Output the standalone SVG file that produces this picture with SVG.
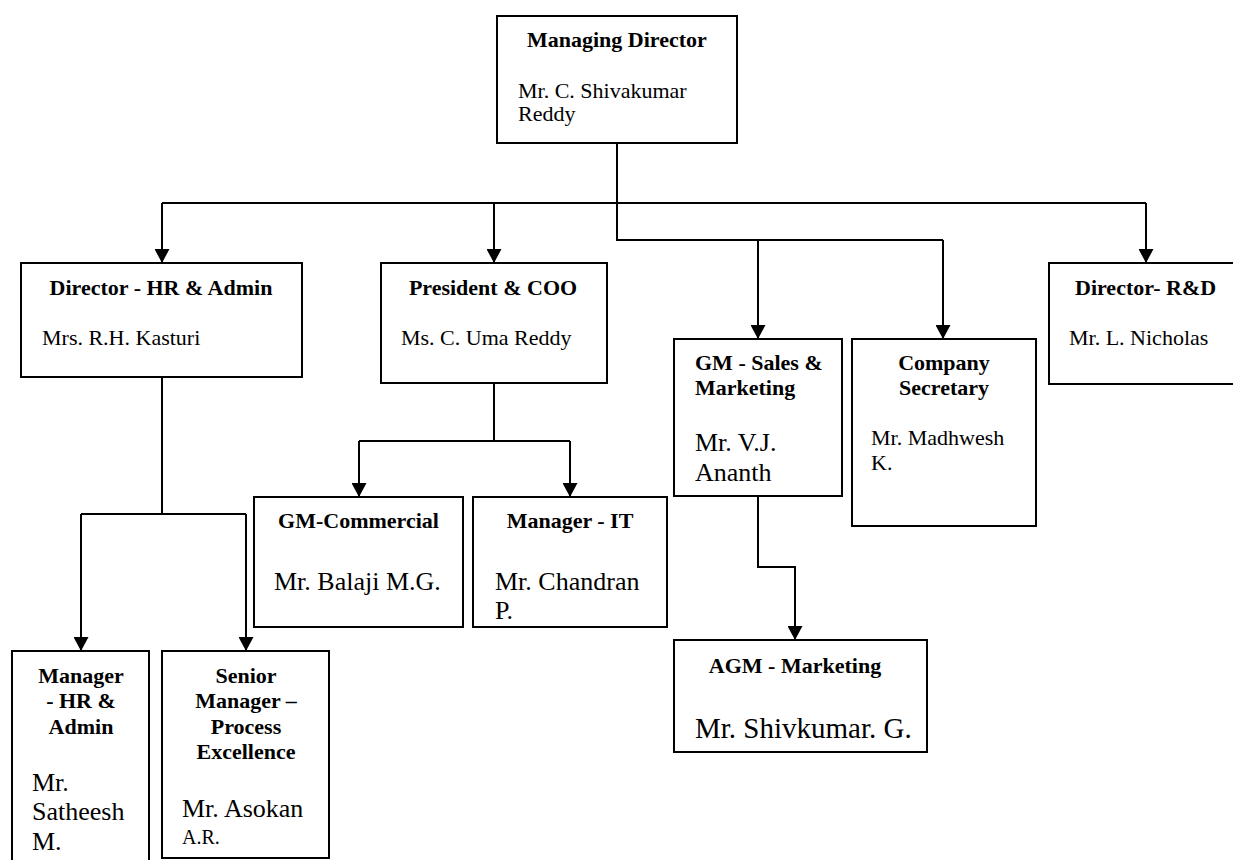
<svg xmlns="http://www.w3.org/2000/svg" width="1233" height="860" viewBox="0 0 1233 860">
<style>
.box{fill:#fff;stroke:#000;stroke-width:2}
.t{font-family:"Liberation Serif","Times New Roman",serif;font-weight:bold;font-size:22px;fill:#000}
.n{font-family:"Liberation Serif","Times New Roman",serif;font-size:22px;fill:#000}
.n2{font-family:"Liberation Serif","Times New Roman",serif;font-size:26px;fill:#000}
.c{text-anchor:middle}
.ln{fill:none;stroke:#000;stroke-width:2}
</style>
<defs>
<marker id="ah" markerUnits="userSpaceOnUse" markerWidth="15" markerHeight="15" refX="14" refY="7.5" orient="auto">
<path d="M0,0 L14,7.5 L0,15 z" fill="#000"/>
</marker>
</defs>
<rect width="1233" height="860" fill="#fff"/>
<g id="connectors">
<path class="ln" d="M617,143 V240 H943"/>
<path class="ln" d="M162,203 H1146"/>
<path class="ln" d="M162,203 V263" marker-end="url(#ah)"/>
<path class="ln" d="M494,203 V263" marker-end="url(#ah)"/>
<path class="ln" d="M1146,203 V263" marker-end="url(#ah)"/>
<path class="ln" d="M758,240 V339" marker-end="url(#ah)"/>
<path class="ln" d="M943,240 V339" marker-end="url(#ah)"/>
<path class="ln" d="M162,377 V514"/>
<path class="ln" d="M81,514 H246"/>
<path class="ln" d="M81,514 V651" marker-end="url(#ah)"/>
<path class="ln" d="M246,514 V651" marker-end="url(#ah)"/>
<path class="ln" d="M494,383 V441"/>
<path class="ln" d="M359,441 H570"/>
<path class="ln" d="M359,441 V497" marker-end="url(#ah)"/>
<path class="ln" d="M570,441 V497" marker-end="url(#ah)"/>
<path class="ln" d="M758,496 V567 H795 V640" marker-end="url(#ah)"/>
</g>
<g id="md">
<rect class="box" x="497" y="16" width="240" height="127"/>
<text class="t" x="527" y="47">Managing Director</text>
<text class="n" x="518" y="98">Mr. C. Shivakumar</text>
<text class="n" x="518" y="121">Reddy</text>
</g>
<g id="dir-hr">
<rect class="box" x="21" y="263" width="281" height="114"/>
<text class="t c" x="161" y="295">Director - HR &amp; Admin</text>
<text class="n" x="42" y="345">Mrs. R.H. Kasturi</text>
</g>
<g id="president">
<rect class="box" x="381" y="263" width="226" height="120"/>
<text class="t c" x="493" y="295">President &amp; COO</text>
<text class="n" x="401" y="345">Ms. C. Uma Reddy</text>
</g>
<g id="dir-rd">
<rect class="box" x="1049" y="263" width="200" height="121"/>
<text class="t" x="1075" y="295">Director- R&amp;D</text>
<text class="n" x="1069" y="345">Mr. L. Nicholas</text>
</g>
<g id="gm-sales">
<rect class="box" x="674" y="339" width="168" height="157"/>
<text class="t" x="695" y="370">GM - Sales &amp;</text>
<text class="t" x="695" y="395">Marketing</text>
<text class="n2" x="695" y="451">Mr. V.J.</text>
<text class="n2" x="695" y="481">Ananth</text>
</g>
<g id="company-secretary">
<rect class="box" x="852" y="339" width="184" height="187"/>
<text class="t c" x="944" y="370">Company</text>
<text class="t c" x="944" y="395">Secretary</text>
<text class="n" x="871" y="445">Mr. Madhwesh</text>
<text class="n" x="871" y="470">K.</text>
</g>
<g id="gm-commercial">
<rect class="box" x="254" y="497" width="209" height="130"/>
<text class="t c" x="358.5" y="528">GM-Commercial</text>
<text class="n2" x="274" y="590">Mr. Balaji M.G.</text>
</g>
<g id="manager-it">
<rect class="box" x="473" y="497" width="194" height="130"/>
<text class="t c" x="570" y="528">Manager - IT</text>
<text class="n2" x="495" y="590">Mr. Chandran</text>
<text class="n2" x="495" y="619">P.</text>
</g>
<g id="agm-marketing">
<rect class="box" x="674" y="640" width="253" height="112"/>
<text class="t c" x="795" y="673">AGM - Marketing</text>
<text class="n2" x="695" y="738" style="font-size:29px">Mr. Shivkumar. G.</text>
</g>
<g id="manager-hr">
<rect class="box" x="12" y="651" width="137" height="230"/>
<text class="t c" x="81" y="683">Manager</text>
<text class="t c" x="81" y="708">- HR &amp;</text>
<text class="t c" x="81" y="734">Admin</text>
<text class="n2" x="32" y="791">Mr.</text>
<text class="n2" x="32" y="820">Satheesh</text>
<text class="n2" x="32" y="850">M.</text>
</g>
<g id="senior-manager">
<rect class="box" x="162" y="651" width="167" height="207"/>
<text class="t c" x="246" y="683">Senior</text>
<text class="t c" x="246" y="708">Manager –</text>
<text class="t c" x="246" y="734">Process</text>
<text class="t c" x="246" y="759">Excellence</text>
<text class="n2" x="182" y="817">Mr. Asokan</text>
<text class="n" x="182" y="844" style="font-size:20px">A.R.</text>
</g>
</svg>
